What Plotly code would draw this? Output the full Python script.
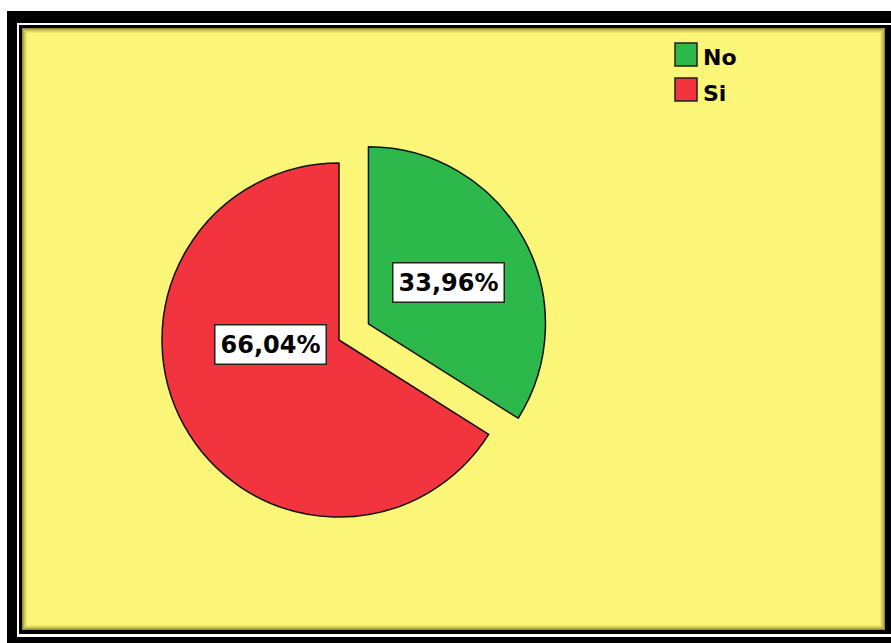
import plotly.graph_objects as go

# Survey answer shares (percent)
categories = ["No", "Si"]
shares = [33.96, 66.04]
slice_colors = ["#2db84b", "#f2343e"]
pulls = [0.19, 0.0]

W, H = 891, 643
FONT = "DejaVu Sans"

# Pie geometry in pixels: centre of the unpulled slice and radius
cx, cy, radius = 339, 340, 177
half = radius * (1 + max(pulls))


def px(x):
    return x / W


def py(y):
    return 1 - y / H


fig = go.Figure(
    go.Pie(
        labels=categories,
        values=shares,
        sort=False,
        direction="clockwise",
        rotation=0,
        pull=pulls,
        marker=dict(colors=slice_colors, line=dict(color="#111111", width=1.5)),
        textinfo="none",
        hoverinfo="label+percent",
        showlegend=False,
        domain=dict(
            x=[px(cx - half), px(cx + half)],
            y=[py(cy + half), py(cy - half)],
        ),
    )
)

shapes = []


def rect(x0, y0, x1, y1, fill=None, line=None, lw=0):
    shapes.append(dict(
        type="rect", xref="paper", yref="paper", layer="below",
        x0=px(x0), x1=px(x1), y0=py(y1), y1=py(y0),
        fillcolor=fill if fill else "rgba(0,0,0,0)",
        line=dict(color=line if line else "rgba(0,0,0,0)", width=lw),
    ))


# Frame: black outer band, thin white rule, black rule, yellow panel
rect(7, 11, 895, 647, fill="#000000")
rect(17, 23, 893, 637, fill="#ffffff")
rect(19, 25, 891, 634, fill="#000000")
rect(22, 28, 885, 630, fill="#fbf677")
# soft inner shadow along the panel edge
for i, a in enumerate([0.55, 0.38, 0.25, 0.15, 0.08]):
    rect(22 + i + 0.5, 28 + i + 0.5, 885 - i - 0.5, 630 - i - 0.5,
         line=f"rgba(60,50,0,{a})", lw=1)

# Legend swatches and labels
annotations = []
legend_x, legend_y0, legend_step, sw = 675, 43, 35, 22
for i, (name, col) in enumerate(zip(categories, slice_colors)):
    top = legend_y0 + i * legend_step
    rect(legend_x, top, legend_x + sw, top + sw + 1, fill=col, line="#222222", lw=1.5)
    annotations.append(dict(
        x=px(legend_x + sw + 4), y=py(top + sw / 2 + 4), xref="paper", yref="paper",
        xanchor="left", yanchor="middle", showarrow=False,
        text=f"<b>{name}</b>",
        font=dict(family=FONT, size=22, color="#000000"),
    ))

# Percentage labels in white boxes
label_centres = {"No": (448, 282), "Si": (270, 344)}
for name, val in zip(categories, shares):
    lx, ly = label_centres[name]
    annotations.append(dict(
        x=px(lx), y=py(ly), xref="paper", yref="paper",
        xanchor="center", yanchor="middle", showarrow=False,
        text="<b>" + f"{val:.2f}".replace(".", ",") + "%</b>",
        font=dict(family=FONT, size=24, color="#000000"),
        bgcolor="#ffffff", bordercolor="#222222", borderwidth=1.5, borderpad=5,
    ))

fig.update_layout(
    width=W, height=H,
    margin=dict(l=0, r=0, t=0, b=0),
    paper_bgcolor="#ffffff",
    plot_bgcolor="#ffffff",
    shapes=shapes,
    annotations=annotations,
)

fig.write_html("out.html")
